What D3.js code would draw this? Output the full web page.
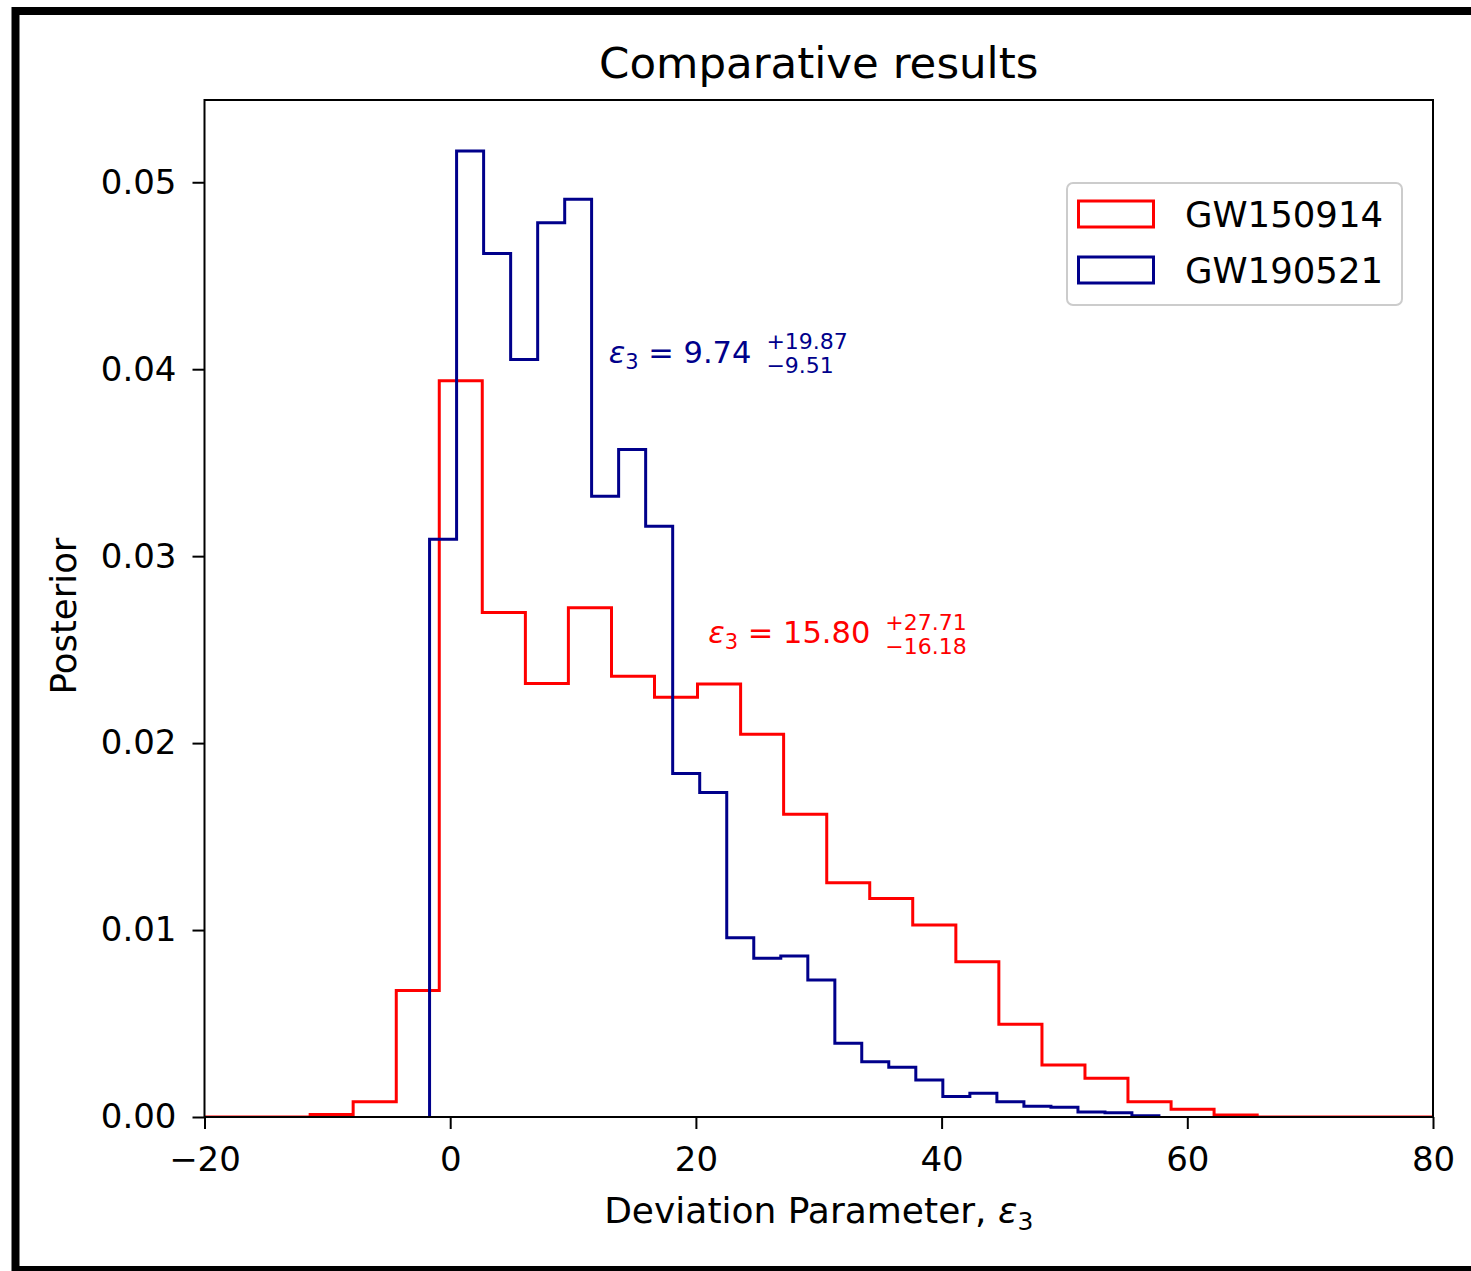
<!DOCTYPE html>
<html>
<head>
<meta charset="utf-8">
<script src="https://cdn.jsdelivr.net/npm/d3@7"></script>
<style>
  html, body { margin: 0; padding: 0; background: #fff; }
  svg text { font-family: "DejaVu Sans", sans-serif; fill: #000; }
</style>
</head>
<body>
<svg id="chart" width="1471" height="1271"></svg>
<script>
// ---- data -------------------------------------------------------------
const seriesNames = ["GW150914", "GW190521"];
const seriesColors = ["#ff0000", "#00008b"];

// GW150914: bin edges and normalised posterior density per bin
const gw150914Edges = [-21.91, -18.41, -14.90, -11.40, -7.90, -4.39, -0.89, 2.61, 6.12, 9.62,
  13.13, 16.63, 20.13, 23.64, 27.14, 30.65, 34.15, 37.65, 41.16, 44.66,
  48.17, 51.67, 55.17, 58.68, 62.18, 65.69, 69.19, 72.70, 76.20, 79.70, 83.21];
const gw150914Density = [0, 0, 0, 0.00014, 0.00082, 0.00676, 0.03938, 0.02699, 0.02319, 0.02724,
  0.02358, 0.02245, 0.02316, 0.02048, 0.01620, 0.01253, 0.01169, 0.01027, 0.00830, 0.00496,
  0.00278, 0.00207, 0.00082, 0.00041, 0.00011, 0, 0, 0, 0, 0];

// GW190521: bin edges and normalised posterior density per bin
const gw190521Edges = [-1.68, 0.52, 2.72, 4.92, 7.12, 9.32, 11.51, 13.71, 15.91, 18.11,
  20.31, 22.51, 24.71, 26.91, 29.11, 31.31, 33.50, 35.70, 37.90, 40.10,
  42.30, 44.50, 46.70, 48.90, 51.10, 53.30, 55.49, 57.69];
const gw190521Density = [0.0309, 0.05167, 0.04619, 0.04052, 0.04784, 0.04909, 0.0332, 0.0357, 0.0316,
  0.01838, 0.01736, 0.00959, 0.00849, 0.00861, 0.00733, 0.00394, 0.00296, 0.00266,
  0.00198, 0.00109, 0.00127, 0.00082, 0.00058, 0.00052, 0.00027, 0.00023, 0.00007];

// median and credible-interval bounds, per series
const medians = ["15.80", "9.74"];
const upperErrors = ["27.71", "19.87"];
const lowerErrors = ["16.18", "9.51"];

const xTickValues = [-20, 0, 20, 40, 60, 80];
const yTickValues = [0.00, 0.01, 0.02, 0.03, 0.04, 0.05];

// ---- layout -----------------------------------------------------------
const plot = { left: 204.5, right: 1433, top: 100, bottom: 1117 };
const svg = d3.select("#chart");

const x = d3.scaleLinear().domain([-20, 80]).range([plot.left, plot.right]);
const y = d3.scaleLinear().domain([0, 0.0544]).range([plot.bottom, plot.top]);

// outer frame
svg.append("rect")
  .attr("x", 15.5).attr("y", 11)
  .attr("width", 1500).attr("height", 1259)
  .attr("fill", "none").attr("stroke", "#000").attr("stroke-width", 8);

svg.append("defs").append("clipPath").attr("id", "plot-clip")
  .append("rect")
  .attr("x", plot.left).attr("y", plot.top)
  .attr("width", plot.right - plot.left).attr("height", plot.bottom - plot.top);

// ---- step histograms --------------------------------------------------
function stepPoints(edges, dens) {
  const pts = [[edges[0], 0]];
  dens.forEach((d, i) => { pts.push([edges[i], d]); pts.push([edges[i + 1], d]); });
  pts.push([edges[edges.length - 1], 0]);
  return pts;
}
const line = d3.line().x(d => x(d[0])).y(d => y(d[1]));

const hists = [
  { edges: gw150914Edges, dens: gw150914Density, color: seriesColors[0] },
  { edges: gw190521Edges, dens: gw190521Density, color: seriesColors[1] }
];
const histLayer = svg.append("g").attr("clip-path", "url(#plot-clip)");
hists.forEach(h => {
  histLayer.append("path")
    .attr("d", line(stepPoints(h.edges, h.dens)))
    .attr("fill", "none")
    .attr("stroke", h.color)
    .attr("stroke-width", 3)
    .attr("stroke-linejoin", "miter");
});

// ---- axes -------------------------------------------------------------
const xAxis = svg.append("g")
  .attr("transform", `translate(0,${plot.bottom})`)
  .call(d3.axisBottom(x).tickValues(xTickValues).tickFormat(d3.format("d"))
    .tickSize(12).tickPadding(18));
const yAxis = svg.append("g")
  .attr("transform", `translate(${plot.left},0)`)
  .call(d3.axisLeft(y).tickValues(yTickValues).tickFormat(d3.format(".2f"))
    .tickSize(12).tickPadding(16));
[xAxis, yAxis].forEach(a => {
  a.select(".domain").remove();
  a.selectAll(".tick line").attr("stroke", "#000").attr("stroke-width", 2);
  a.selectAll(".tick text").attr("font-size", 34).attr("fill", "#000")
    .style("font-family", '"DejaVu Sans", sans-serif');
});

svg.append("rect")
  .attr("x", plot.left).attr("y", plot.top)
  .attr("width", plot.right - plot.left).attr("height", plot.bottom - plot.top)
  .attr("fill", "none").attr("stroke", "#000").attr("stroke-width", 2);

// ---- titles -----------------------------------------------------------
const cx = (plot.left + plot.right) / 2;
svg.append("text")
  .attr("x", cx).attr("y", 78)
  .attr("text-anchor", "middle").attr("font-size", 43.5)
  .text("Comparative results");

const xl = svg.append("text")
  .attr("x", cx).attr("y", 1223)
  .attr("text-anchor", "middle").attr("font-size", 36);
xl.append("tspan").text("Deviation Parameter, ");
xl.append("tspan").attr("font-style", "italic").text("ε");
xl.append("tspan").attr("font-size", 25).attr("dy", 7).text("3");

svg.append("text")
  .attr("transform", `translate(76,616) rotate(-90)`)
  .attr("text-anchor", "middle").attr("font-size", 35.5)
  .text("Posterior");

// ---- annotations ------------------------------------------------------
const annos = [
  { i: 0, ax: 21.0, ay: 0.02535, supDy: -13.5, subDy: 10.5 },
  { i: 1, ax: 12.9, ay: 0.04032, supDy: -14, subDy: 10 }
];
annos.forEach(a => {
  const color = seriesColors[a.i];
  const px = x(a.ax), py = y(a.ay);
  const t = svg.append("text").attr("x", px).attr("y", py)
    .attr("font-size", 30.5).style("fill", color);
  t.append("tspan").attr("font-style", "italic").text("ε");
  t.append("tspan").attr("font-size", 21).attr("dy", 6).text("3");
  t.append("tspan").attr("dy", -6).text(" = " + medians[a.i]);
  const w = t.node().getComputedTextLength();
  const sx = px + w + 15;
  svg.append("text").attr("x", sx).attr("y", py + a.supDy)
    .attr("font-size", 22).style("fill", color).text("+" + upperErrors[a.i]);
  svg.append("text").attr("x", sx).attr("y", py + a.subDy)
    .attr("font-size", 22).style("fill", color).text("\u2212" + lowerErrors[a.i]);
});

// ---- legend -----------------------------------------------------------
const legend = svg.append("g");
legend.append("rect")
  .attr("x", 1067).attr("y", 183).attr("width", 335).attr("height", 122)
  .attr("rx", 6).attr("fill", "#fff").attr("fill-opacity", 0.8)
  .attr("stroke", "#cccccc").attr("stroke-width", 2);
seriesNames.forEach((name, i) => {
  const top = 201 + i * 56;
  legend.append("rect")
    .attr("x", 1078.5).attr("y", top)
    .attr("width", 75).attr("height", 26)
    .attr("fill", "none").attr("stroke", seriesColors[i]).attr("stroke-width", 3);
  legend.append("text")
    .attr("x", 1185).attr("y", top + 26)
    .attr("font-size", 35.5).text(name);
});
</script>
</body>
</html>
